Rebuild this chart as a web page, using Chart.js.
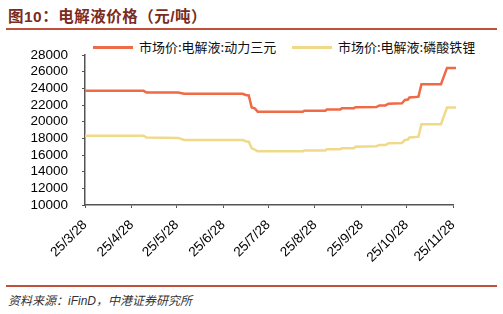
<!DOCTYPE html>
<html lang="zh">
<head>
  <meta charset="UTF-8">
  <title>电解液价格</title>
  <script src="https://cdn.jsdelivr.net/npm/chart.js"></script>
  <style>
    html, body { margin: 0; padding: 0; background: #fff; }
    body { width: 503px; height: 314px; position: relative; overflow: hidden;
           font-family: "Liberation Sans", Arial, "Noto Sans CJK SC", sans-serif; }
    .title { position: absolute; left: 8px; top: 4px; font-size: 15.5px; font-weight: bold;
             color: #7a2b22; font-family: "Liberation Sans", "Noto Sans CJK SC", sans-serif; letter-spacing: 0.5px; }
    .rule { position: absolute; left: 6px; right: 6px; height: 2px; background: #c0503a; }
    .source { position: absolute; left: 8px; top: 291px; font-size: 12px; font-style: italic;
              color: #333; font-family: "Liberation Sans", "Noto Sans CJK SC", sans-serif; }
    .legend { position: absolute; top: 37px; font-size: 13px; color: #111;
              font-family: "Noto Sans CJK SC", sans-serif; white-space: nowrap; }
    .legend span.swatch { display: inline-block; width: 40px; height: 3px; vertical-align: middle;
                          margin-right: 6px; position: relative; top: -1px; }
    #wrap { position: absolute; left: 0; top: 30px; width: 503px; height: 250px; }
  </style>
</head>
<body>
  <div class="title">图10：电解液价格（元/吨）</div>
  <div class="rule" style="top:28px"></div>
  <div class="legend" style="left:93px"><span class="swatch" style="background:#ef6a45"></span>市场价:电解液:动力三元</div>
  <div class="legend" style="left:292px"><span class="swatch" style="background:#f1d98a"></span>市场价:电解液:磷酸铁锂</div>
  <div id="wrap"><canvas id="priceChart"></canvas></div>
  <div class="rule" style="top:285px"></div>
  <div class="source">资料来源：iFinD，中港证券研究所</div>

  <script>
    // series data (change points)
    const ternaryDates = ['2025-03-28','2025-05-06','2025-05-08','2025-05-29','2025-06-02','2025-07-11','2025-07-13','2025-07-15',
      '2025-07-17','2025-07-19','2025-07-21','2025-08-20','2025-08-21','2025-09-04','2025-09-05','2025-09-14','2025-09-15',
      '2025-09-23','2025-09-24','2025-10-08','2025-10-10','2025-10-14','2025-10-16','2025-10-25','2025-10-27','2025-10-29',
      '2025-10-30','2025-11-03','2025-11-05','2025-11-07','2025-11-20','2025-11-24','2025-11-30'];
    const ternaryValues = [23700,23700,23500,23500,23350,23350,23200,23150,
      21700,21600,21200,21200,21320,21320,21450,21450,21600,
      21600,21720,21750,21950,21950,22150,22200,22600,22650,
      22900,22950,23000,24500,24500,26450,26450];

    const lfpDates = ternaryDates;
    const lfpValues = [18300,18300,18100,18050,17800,17800,17650,17600,
      16800,16650,16450,16450,16550,16550,16680,16680,16800,
      16800,17000,17050,17200,17200,17400,17450,17800,17850,
      18100,18150,18200,19700,19700,21700,21700];

    const tickDates = ['2025-03-28','2025-04-28','2025-05-28','2025-06-28','2025-07-28','2025-08-28','2025-09-28','2025-10-28','2025-11-28'];
    const tickLabels = ['25/3/28','25/4/28','25/5/28','25/6/28','25/7/28','25/8/28','25/9/28','25/10/28','25/11/28'];

    const yTicks = { min: 10000, max: 28000, step: 2000 };

    // days since the first date, used as the x value
    const base = Date.UTC(2025, 2, 28);
    function dayOf(s) {
      const p = s.split('-');
      return (Date.UTC(+p[0], +p[1] - 1, +p[2]) - base) / 86400000;
    }
    const tickDays = tickDates.map(dayOf);

    const ternaryPts = ternaryDates.map((d, i) => ({ x: dayOf(d), y: ternaryValues[i] }));
    const lfpPts = lfpDates.map((d, i) => ({ x: dayOf(d), y: lfpValues[i] }));

    const axisColor = '#555';
    const tickFont = { family: '"Liberation Sans", Arial, sans-serif', size: 13.5 };

    new Chart(document.getElementById('priceChart'), {
      type: 'line',
      data: {
        datasets: [
          { label: '市场价:电解液:动力三元', data: ternaryPts, borderColor: '#ef6a45', backgroundColor: '#ef6a45',
            borderWidth: 2.5, pointRadius: 0, tension: 0, clip: false },
          { label: '市场价:电解液:磷酸铁锂', data: lfpPts, borderColor: '#f1d98a', backgroundColor: '#f1d98a',
            borderWidth: 2.5, pointRadius: 0, tension: 0, clip: false }
        ]
      },
      options: {
        responsive: true,
        maintainAspectRatio: false,
        animation: false,
        layout: { padding: { top: 25, right: 50, left: 0, bottom: 0 } },
        plugins: { legend: { display: false }, tooltip: { enabled: false } },
        scales: {
          x: {
            type: 'linear',
            min: tickDays[0],
            max: tickDays[tickDays.length - 1],
            afterBuildTicks: (scale) => { scale.ticks = tickDays.map(v => ({ value: v })); },
            afterFit: (scale) => { scale.height = 75; },
            ticks: {
              color: '#000', font: tickFont, padding: 9,
              minRotation: 45, maxRotation: 45, autoSkip: false,
              callback: (v) => tickLabels[tickDays.indexOf(v)]
            },
            grid: { drawOnChartArea: false, color: axisColor, tickLength: 3 },
            border: { color: axisColor, width: 1.5 }
          },
          y: {
            min: yTicks.min,
            max: yTicks.max,
            afterFit: (scale) => { scale.width = 85; },
            ticks: { stepSize: yTicks.step, autoSkip: false, color: '#000', font: tickFont, padding: 14,
                     callback: (v) => String(v) },
            grid: { drawOnChartArea: false, color: axisColor, tickLength: 3 },
            border: { color: axisColor, width: 1.5 }
          }
        }
      }
    });
  </script>
</body>
</html>
